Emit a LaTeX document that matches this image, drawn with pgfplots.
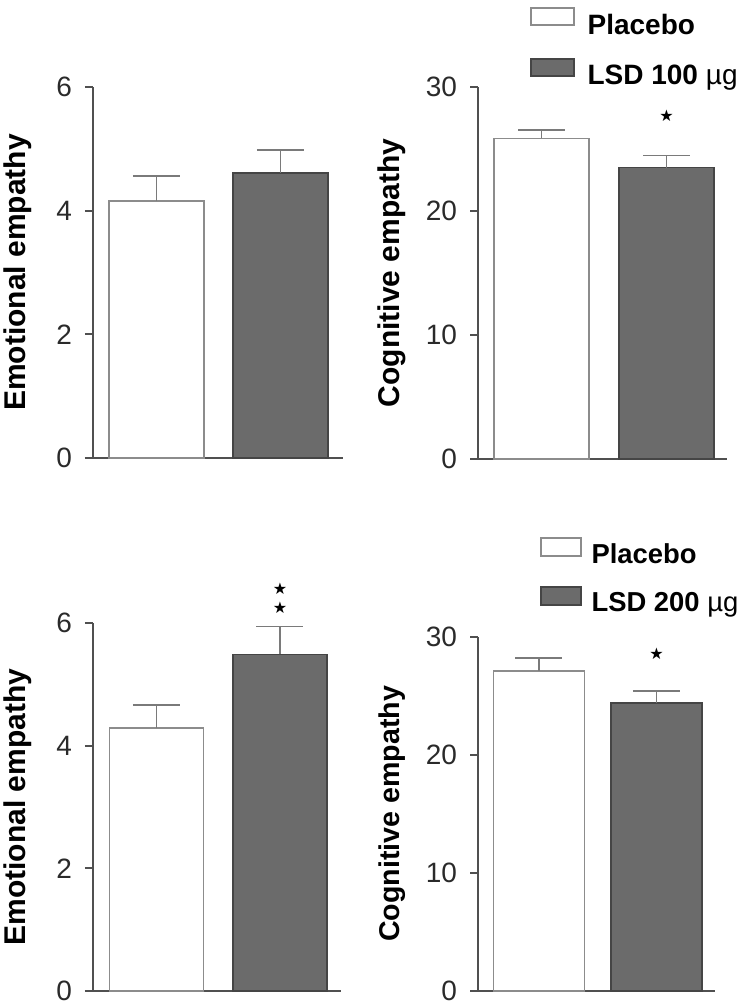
\documentclass[border=0pt]{standalone}
\usepackage{pgfplots}
\pgfplotsset{compat=1.18}
\usepackage{fontspec}
\setmainfont{Liberation Sans}
\newfontfamily\symfont{DejaVu Sans}
\definecolor{axisgray}{HTML}{505050}
\definecolor{darkbar}{HTML}{6B6B6B}
\definecolor{darkedge}{HTML}{454545}
\definecolor{lightedge}{HTML}{8C8C8C}
\definecolor{errgray}{HTML}{7A7A7A}
\definecolor{ticktext}{HTML}{2A2A2A}
\pgfplotsset{
  panel/.style={
    scale only axis,
    axis x line*=bottom, axis y line*=left,
    axis line style={-, axisgray, line width=1pt},
    x axis line style={shorten <=-4pt},
    xtick=\empty,
    ymin=0,
    tick align=outside, major tick length=4pt,
    tick style={axisgray, line width=1pt},
    y tick label style={font=\fontsize{14}{14}\selectfont, text=ticktext, xshift=-3pt},
    /pgf/number format/assume math mode=true,
    every axis y label/.style={rotate=90, anchor=center, font=\bfseries\fontsize{15}{15}\selectfont},
    clip=false,
  },
  placebo/.style={ybar, bar shift=0pt, fill=white, draw=lightedge, line width=0.75pt, forget plot,
    error bars/.cd, y dir=plus, y explicit, error mark=|,
    error bar style={errgray, line width=0.75pt},
    error mark options={errgray, line width=0.75pt, mark size=11.75pt}, /pgfplots/.cd},
  lsd/.style={ybar, bar shift=0pt, fill=darkbar, draw=darkedge, line width=0.75pt, forget plot,
    error bars/.cd, y dir=plus, y explicit, error mark=|,
    error bar style={errgray, line width=0.75pt},
    error mark options={errgray, line width=0.75pt, mark size=11.75pt}, /pgfplots/.cd},
}
\begin{document}
\begin{tikzpicture}
\useasboundingbox (0,0) rectangle (374.5pt,503pt);
% Panel 1
\begin{axis}[panel, at={(46.5pt,274pt)}, anchor=south west,
  width=125pt, height=185.5pt, xmin=0.488, xmax=2.504,
  ymax=6, ytick={0,2,4,6},
  ylabel={Emotional empathy}, ylabel style={at={(axis description cs:-0.3,0.5)}}]
\addplot[bar width=0.766, placebo] coordinates {(1,4.16) +- (0,0.40)};
\addplot[bar width=0.766, lsd] coordinates {(2,4.61) +- (0,0.37)};
\end{axis}
% Panel 2
\begin{axis}[panel, at={(239pt,273.5pt)}, anchor=south west,
  width=124.5pt, height=186pt, xmin=0.492, xmax=2.484,
  ymax=30, ytick={0,10,20,30},
  ylabel={Cognitive empathy}, ylabel style={at={(axis description cs:-0.345,0.5)}},
  legend style={draw=none, fill=none, at={(axis description cs:0.209,1.215)}, anchor=north west,
    inner sep=0pt, row sep=9pt, font=\bfseries\fontsize{14}{14}\selectfont,
    cells={anchor=west}, nodes={inner sep=0pt, text height=10pt, text depth=3pt}}]
\addplot[bar width=0.76, placebo] coordinates {(1,25.86) +- (0,0.67)};
\addplot[bar width=0.76, lsd] coordinates {(2,23.49) +- (0,0.97)};
\addlegendimage{legend image code/.code={\draw[fill=white, draw=lightedge, line width=0.75pt] (0pt,1pt) rectangle (21.5pt,9.5pt); \path (28pt,0pt);}}
\addlegendentry{Placebo}
\addlegendimage{legend image code/.code={\draw[fill=darkbar, draw=darkedge, line width=0.75pt] (0pt,1pt) rectangle (21.5pt,9.5pt); \path (28pt,0pt);}}
\addlegendentry{LSD 100 {\mdseries µg}}
\node[font=\symfont\fontsize{8}{8}\selectfont] at (axis cs:2,27.7) {★};
\end{axis}
% Panel 3
\begin{axis}[panel, at={(46.5pt,7.5pt)}, anchor=south west,
  width=124pt, height=184pt, xmin=0.486, xmax=2.494,
  ymax=6, ytick={0,2,4,6},
  ylabel={Emotional empathy}, ylabel style={at={(axis description cs:-0.302,0.5)}}]
\addplot[bar width=0.761, placebo] coordinates {(1,4.29) +- (0,0.37)};
\addplot[bar width=0.761, lsd] coordinates {(2,5.49) +- (0,0.45)};
\node[font=\symfont\fontsize{8}{8}\selectfont] at (axis cs:2,6.56) {★};
\node[font=\symfont\fontsize{8}{8}\selectfont] at (axis cs:2,6.25) {★};
\end{axis}
% Panel 4
\begin{axis}[panel, at={(239pt,7.5pt)}, anchor=south west,
  width=118.5pt, height=177pt, xmin=0.481, xmax=2.498,
  ymax=30, ytick={0,10,20,30},
  ylabel={Cognitive empathy}, ylabel style={at={(axis description cs:-0.363,0.5)}, font=\bfseries\fontsize{14.3}{14.3}\selectfont},
  legend style={draw=none, fill=none, at={(axis description cs:0.2616,1.2825)}, anchor=north west,
    inner sep=0pt, row sep=8.5pt, font=\bfseries\fontsize{13.7}{13.7}\selectfont,
    cells={anchor=west}, nodes={inner sep=0pt, text height=10pt, text depth=3pt}}]
\addplot[bar width=0.774, placebo] coordinates {(1,27.12) +- (0,1.1)};
\addplot[bar width=0.774, lsd] coordinates {(2,24.41) +- (0,1.0)};
\addlegendimage{legend image code/.code={\draw[fill=white, draw=lightedge, line width=0.75pt] (0pt,0pt) rectangle (20pt,9pt); \path (25pt,0pt);}}
\addlegendentry{Placebo}
\addlegendimage{legend image code/.code={\draw[fill=darkbar, draw=darkedge, line width=0.75pt] (0pt,0pt) rectangle (20pt,9pt); \path (25pt,0pt);}}
\addlegendentry{LSD 200 {\mdseries µg}}
\node[font=\symfont\fontsize{8}{8}\selectfont] at (axis cs:2,28.6) {★};
\end{axis}
\end{tikzpicture}
\end{document}
